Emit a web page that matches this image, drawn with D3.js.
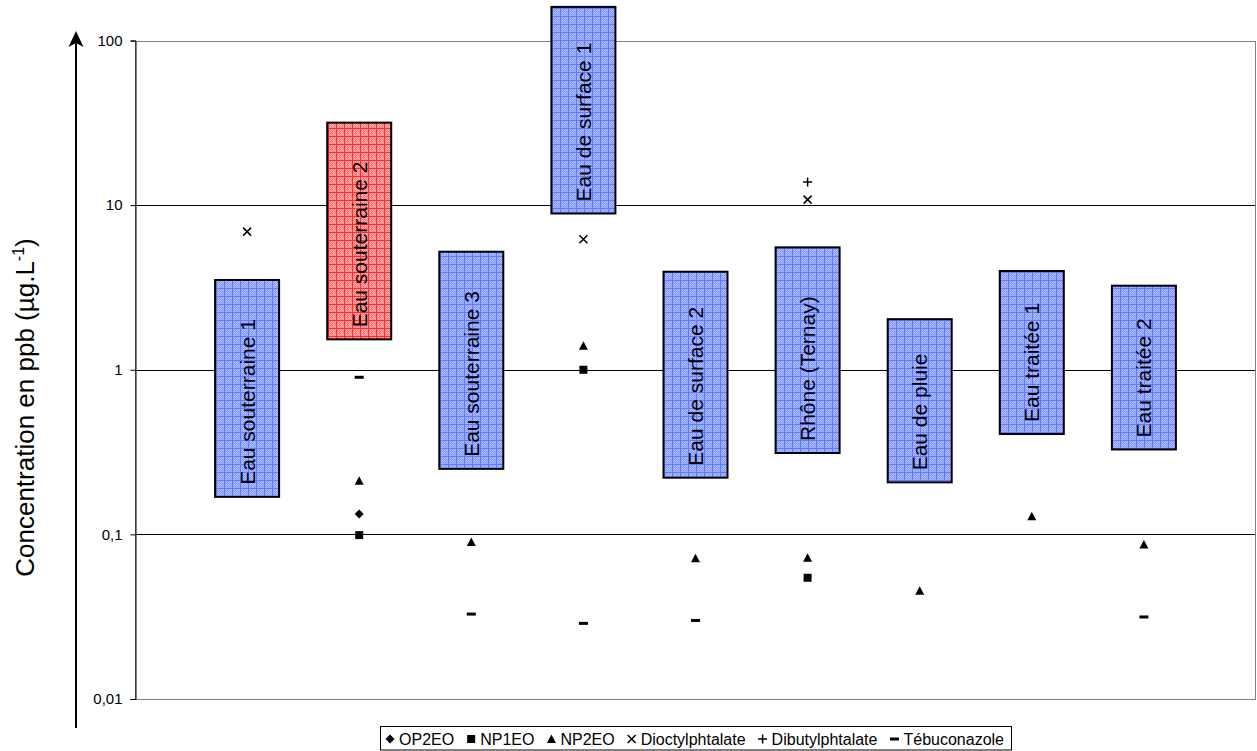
<!DOCTYPE html>
<html>
<head>
<meta charset="utf-8">
<script src="https://cdn.jsdelivr.net/npm/d3@7"></script>
<style>
  html, body { margin: 0; padding: 0; background: #fff; }
  svg { display: block; font-family: "Liberation Sans", Arial, sans-serif; }
</style>
</head>
<body>
<svg id="chart" width="1257" height="751"></svg>
<script>
// ---------------- DATA ----------------
const categories = ["Eau souterraine 1", "Eau souterraine 2", "Eau souterraine 3",
  "Eau de surface 1", "Eau de surface 2", "Rhône (Ternay)", "Eau de pluie",
  "Eau traitée 1", "Eau traitée 2"];
// concentration range (min / max) for each water type, µg/L
const rangeMin = [0.169, 1.53, 0.25, 8.9, 0.221, 0.312, 0.207, 0.407, 0.328];
const rangeMax = [3.51, 31.7, 5.21, 160, 3.94, 5.54, 2.03, 3.98, 3.24];

const seriesNames = ["OP2EO", "NP1EO", "NP2EO", "Dioctylphtalate", "Dibutylphtalate", "Tébuconazole"];
const OP2EO = [null, 0.133, null, null, null, null, null, null, null];
const NP1EO = [null, 0.099, null, 1.0, null, 0.0545, null, null, null];
const NP2EO = [null, 0.212, 0.0898, 1.40, 0.0715, 0.072, 0.0454, 0.129, 0.0869];
const Dioctylphtalate = [6.9, null, null, 6.2, null, 10.8, null, null, null];
const Dibutylphtalate = [null, null, null, null, null, 13.8, null, null, null];
const Tebuconazole = [null, 0.90, 0.0328, 0.0288, 0.0300, null, null, null, 0.0315];

const yTicks = [0.01, 0.1, 1, 10, 100];
const yTickLabels = ["0,01", "0,1", "1", "10", "100"];
const yTitle = "Concentration en ppb (µg.L";
const yTitleSup = "-1";
const yTitleEnd = ")";

// ---------------- LAYOUT / STYLE ----------------
const svg = d3.select("#chart");
const plot = { left: 135, right: 1256, top: 40.5, bottom: 699 };
const x = d3.scaleLinear().domain([0, categories.length + 1]).range([plot.left, plot.right]);
const y = d3.scaleLog().domain([0.01, 100]).range([plot.bottom, plot.top]);
const barHalf = 32;
const highlightName = "Eau souterraine 2";

// patterns
const defs = svg.append("defs");
function makePattern(id, bg, light, dark, line) {
  const p = defs.append("pattern").attr("id", id).attr("patternUnits", "userSpaceOnUse")
    .attr("width", 8).attr("height", 8);
  p.append("rect").attr("width", 8).attr("height", 8).attr("fill", bg);
  for (let i = 0; i < 8; i++) for (let j = 0; j < 8; j++) {
    if ((i + j) % 2 === 0) p.append("rect").attr("x", i).attr("y", j).attr("width", 1).attr("height", 1).attr("fill", light);
    else if ((i * 3 + j) % 5 === 0) p.append("rect").attr("x", i).attr("y", j).attr("width", 1).attr("height", 1).attr("fill", dark);
  }
  p.append("rect").attr("x", 0).attr("y", 0).attr("width", 8).attr("height", 1).attr("fill", line);
  p.append("rect").attr("x", 0).attr("y", 0).attr("width", 1).attr("height", 8).attr("fill", line);
}
makePattern("pBlue", "#8fa2ff", "#a9b8ff", "#7890ff", "#5d7bff");
makePattern("pRed", "#ff8282", "#ffa6a6", "#ff6262", "#ff2a2a");

// gridlines (inner)
svg.append("g").selectAll("line").data(yTicks.filter(t => t > 0.01 && t < 100)).join("line")
  .attr("x1", plot.left).attr("x2", plot.right)
  .attr("y1", d => Math.round(y(d)) + 0.5).attr("y2", d => Math.round(y(d)) + 0.5)
  .attr("stroke", "#000").attr("stroke-width", 1);

// plot frame (grey)
svg.append("rect").attr("x", plot.left + 0.5).attr("y", Math.round(plot.top) + 0.5)
  .attr("width", plot.right - plot.left - 1).attr("height", Math.round(plot.bottom) - Math.round(plot.top))
  .attr("fill", "none").attr("stroke", "#808080").attr("stroke-width", 1);

// left axis
const axis = d3.axisLeft(y).tickValues(yTicks).tickSize(5).tickPadding(8)
  .tickFormat(d => yTickLabels[yTicks.indexOf(d)]);
const gAxis = svg.append("g").attr("transform", `translate(${plot.left + 0.5},0)`).call(axis);
gAxis.select(".domain").attr("stroke", "#000");
gAxis.selectAll(".tick line").attr("stroke", "#000");
gAxis.selectAll(".tick text").attr("font-size", 15).attr("fill", "#000")
  .attr("font-family", "'Liberation Sans', Arial, sans-serif");

// range bars
const bars = svg.append("g").selectAll("g").data(categories).join("g");
bars.append("rect")
  .attr("x", (d, i) => x(i + 1) - barHalf)
  .attr("y", (d, i) => y(rangeMax[i]))
  .attr("width", barHalf * 2)
  .attr("height", (d, i) => y(rangeMin[i]) - y(rangeMax[i]))
  .attr("fill", d => d === highlightName ? "url(#pRed)" : "url(#pBlue)")
  .attr("stroke", "#000").attr("stroke-width", 2);
bars.append("text")
  .attr("transform", (d, i) => `translate(${x(i + 1)},${y(rangeMin[i]) - 12}) rotate(-90)`)
  .attr("dy", "0.36em")
  .attr("font-size", 21).attr("fill", "#000")
  .text(d => d);

// markers
const shapes = {
  "OP2EO": { path: "M0,-4.5L4.5,0L0,4.5L-4.5,0Z", fill: true },
  "NP1EO": { path: "M-4,-4H4V4H-4Z", fill: true },
  "NP2EO": { path: "M0,-4.5L4.5,4L-4.5,4Z", fill: true },
  "Dioctylphtalate": { path: "M-4,-4L4,4M-4,4L4,-4", fill: false },
  "Dibutylphtalate": { path: "M-4.5,0H4.5M0,-4.5V4.5", fill: false },
  "Tébuconazole": { path: "M-4.5,-1.5H4.5V1.5H-4.5Z", fill: true }
};
const seriesValues = [OP2EO, NP1EO, NP2EO, Dioctylphtalate, Dibutylphtalate, Tebuconazole];
const gMarks = svg.append("g");
seriesNames.forEach((name, si) => {
  const pts = seriesValues[si].map((v, i) => ({ v, i })).filter(p => p.v !== null);
  gMarks.append("g").selectAll("path").data(pts).join("path")
    .attr("transform", p => `translate(${x(p.i + 1)},${y(p.v)})`)
    .attr("d", shapes[name].path)
    .attr("fill", shapes[name].fill ? "#000" : "none")
    .attr("stroke", "#000").attr("stroke-width", shapes[name].fill ? 0 : 1.5);
});

// y axis arrow + title
svg.append("line").attr("x1", 76).attr("x2", 76).attr("y1", 728).attr("y2", 40)
  .attr("stroke", "#000").attr("stroke-width", 2);
svg.append("path").attr("d", "M76,31L83.5,47L76,43L68.5,47Z").attr("fill", "#000");
const title = svg.append("text")
  .attr("transform", "translate(34,407.5) rotate(-90)")
  .attr("text-anchor", "middle").attr("font-size", 26).attr("fill", "#000");
title.append("tspan").text(yTitle);
title.append("tspan").attr("font-size", 16).attr("dy", -10).text(yTitleSup);
title.append("tspan").attr("dy", 10).text(yTitleEnd);

// legend
const legendY = 745;
const gLeg = svg.append("g");
const legBox = gLeg.append("rect");
let cx = 0;
seriesNames.forEach(name => {
  const it = gLeg.append("g");
  it.append("path").attr("d", shapes[name].path)
    .attr("fill", shapes[name].fill ? "#000" : "none")
    .attr("stroke", "#000").attr("stroke-width", shapes[name].fill ? 0 : 1.5)
    .attr("transform", `translate(${cx + 6},${legendY - 6})`);
  const t = it.append("text").attr("x", cx + 15).attr("y", legendY)
    .attr("font-size", 16).attr("fill", "#000").text(name);
  const w = t.node().getComputedTextLength();
  cx += 15 + w + 11;
});
const contentW = cx - 11;
const padL = 4, padR = 7;
const boxW = contentW + padL + padR;
const boxX = (plot.left + plot.right) / 2 - boxW / 2;
gLeg.selectAll("g").attr("transform", `translate(${boxX + padL},0)`);
legBox.attr("x", Math.round(boxX) + 0.5).attr("y", 726.5).attr("width", Math.round(boxW)).attr("height", 23.5)
  .attr("fill", "#fff").attr("stroke", "#000").attr("stroke-width", 1);
</script>
</body>
</html>
